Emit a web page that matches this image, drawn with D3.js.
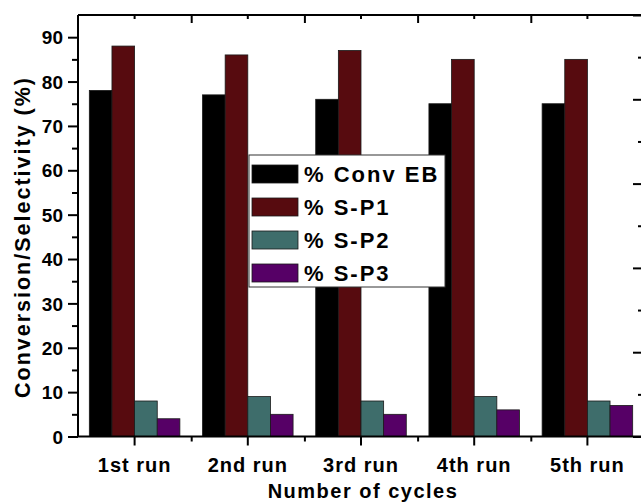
<!DOCTYPE html>
<html>
<head>
<meta charset="utf-8">
<script src="https://cdn.jsdelivr.net/npm/d3@7"></script>
<style>
  html, body { margin: 0; padding: 0; background: #fff; }
  svg { display: block; }
  text { font-family: "Liberation Sans", Arial, sans-serif; font-weight: bold; fill: #000; }
</style>
</head>
<body>
<svg id="chart" width="641" height="503"></svg>
<script>
const categories = ["1st run", "2nd run", "3rd run", "4th run", "5th run"];
const seriesNames = ["% Conv EB", "% S-P1", "% S-P2", "% S-P3"];
const convEB = [78, 77, 76, 75, 75];
const sP1 = [88, 86, 87, 85, 85];
const sP2 = [8, 9, 8, 9, 8];
const sP3 = [4, 5, 5, 6, 7];
const seriesColors = ["#000000", "#570b0f", "#3e6d6b", "#560066"];
const yTickValues = [0, 10, 20, 30, 40, 50, 60, 70, 80, 90];
const yMinorValues = [5, 15, 25, 35, 45, 55, 65, 75, 85];
const rightMajor = [0, 20, 40, 60, 80, 100];
const rightMinor = [10, 30, 50, 70, 90];

const seriesValues = [convEB, sP1, sP2, sP3];

const svg = d3.select("#chart");
const L = 78, R = 644, T = 15, B = 436.5;

const x = d3.scaleBand().domain(categories).range([L, R]).paddingInner(0).paddingOuter(0);
const xl = d3.scaleLinear().domain([0.5, 5.5]).range([L, R]);
const groupW = x.bandwidth() * 0.8;
const x1 = d3.scaleBand().domain(seriesNames).range([0, groupW]);
const y = d3.scaleLinear().domain([0, 95]).range([B, T]);
const yR = d3.scaleLinear().domain([0, 100]).range([B, T]);

// bars
const gBars = svg.append("g");
categories.forEach((c, i) => {
  const gx = x(c) + (x.bandwidth() - groupW) / 2;
  seriesNames.forEach((s, j) => {
    const v = seriesValues[j][i];
    gBars.append("rect")
      .attr("x", gx + x1(s))
      .attr("y", y(v))
      .attr("width", x1.bandwidth())
      .attr("height", y(0) - y(v))
      .attr("fill", seriesColors[j])
      .attr("stroke", "#1a1a1a")
      .attr("stroke-width", 0.8);
  });
});

function styleAxis(g) {
  g.selectAll(".domain").attr("stroke", "#000").attr("stroke-width", 2);
  g.selectAll(".tick line").attr("stroke", "#000").attr("stroke-width", 2);
}

// left axis
const gLeft = svg.append("g").attr("transform", `translate(${L},0)`)
  .call(d3.axisLeft(y).tickValues(yTickValues).tickSize(10).tickPadding(5).tickSizeOuter(0));
styleAxis(gLeft);
gLeft.select(".domain").attr("d", `M0,${B}V${T}`);
gLeft.selectAll(".tick text").style("font-size", "19px").attr("dy", "0.35em").style("font-family", "'Liberation Sans', Arial, sans-serif");
const gLeftMinor = svg.append("g").attr("transform", `translate(${L},0)`)
  .call(d3.axisLeft(y).tickValues(yMinorValues).tickSize(6).tickFormat(""));
styleAxis(gLeftMinor);
gLeftMinor.select(".domain").remove();

// bottom axis
const gBottom = svg.append("g").attr("transform", `translate(0,${B})`)
  .call(d3.axisBottom(x).tickSize(9).tickSizeOuter(0));
styleAxis(gBottom);
gBottom.select(".domain").attr("d", `M${L},0H${R}`);
gBottom.selectAll(".tick text")
  .style("font-size", "20px").style("letter-spacing", "1px")
  .style("font-family", "'Liberation Sans', Arial, sans-serif")
  .attr("y", 35).attr("dy", 0);
const gBottomMinor = svg.append("g").attr("transform", `translate(0,${B})`)
  .call(d3.axisBottom(xl).tickValues([1.5, 2.5, 3.5, 4.5, 5.5]).tickSize(5).tickFormat(""));
styleAxis(gBottomMinor);
gBottomMinor.select(".domain").remove();

// top axis (ticks inward)
const gTop = svg.append("g").attr("transform", `translate(0,${T})`)
  .call(d3.axisBottom(x).tickSize(4).tickFormat(""));
styleAxis(gTop);
gTop.select(".domain").attr("d", `M${L},0H${R}`);
const gTopMinor = svg.append("g").attr("transform", `translate(0,${T})`)
  .call(d3.axisBottom(xl).tickValues([1.5, 2.5, 3.5, 4.5]).tickSize(8).tickFormat(""));
styleAxis(gTopMinor);
gTopMinor.select(".domain").remove();

// right axis (ticks inward)
const gRight = svg.append("g").attr("transform", `translate(${R},0)`)
  .call(d3.axisLeft(yR).tickValues(rightMajor).tickSize(11).tickFormat(""));
styleAxis(gRight);
gRight.select(".domain").attr("d", `M0,${B}V${T}`);
const gRightMinor = svg.append("g").attr("transform", `translate(${R},0)`)
  .call(d3.axisLeft(yR).tickValues(rightMinor).tickSize(6).tickFormat(""));
styleAxis(gRightMinor);
gRightMinor.select(".domain").remove();

// axis titles
svg.append("text")
  .attr("x", (L + R) / 2 + 2).attr("y", 498)
  .attr("text-anchor", "middle")
  .style("font-size", "20px").style("letter-spacing", "1.5px")
  .text("Number of cycles");
svg.append("text")
  .attr("transform", "translate(30,237) rotate(-90)")
  .attr("text-anchor", "middle")
  .style("font-size", "21.5px").style("letter-spacing", "2px")
  .text("Conversion/Selectivity (%)");

// legend
const lg = svg.append("g");
lg.append("rect").attr("x", 249).attr("y", 155).attr("width", 196).attr("height", 132)
  .attr("fill", "#fff").attr("stroke", "#333").attr("stroke-width", 1);
seriesNames.forEach((s, j) => {
  const cy = 174 + j * 33;
  lg.append("rect").attr("x", 252).attr("y", cy - 9).attr("width", 46).attr("height", 18)
    .attr("fill", seriesColors[j]).attr("stroke", "#1a1a1a").attr("stroke-width", 0.8);
  lg.append("text").attr("x", 304).attr("y", cy + 8)
    .style("font-size", "22px").style("letter-spacing", "2px")
    .text(s);
});
</script>
</body>
</html>
